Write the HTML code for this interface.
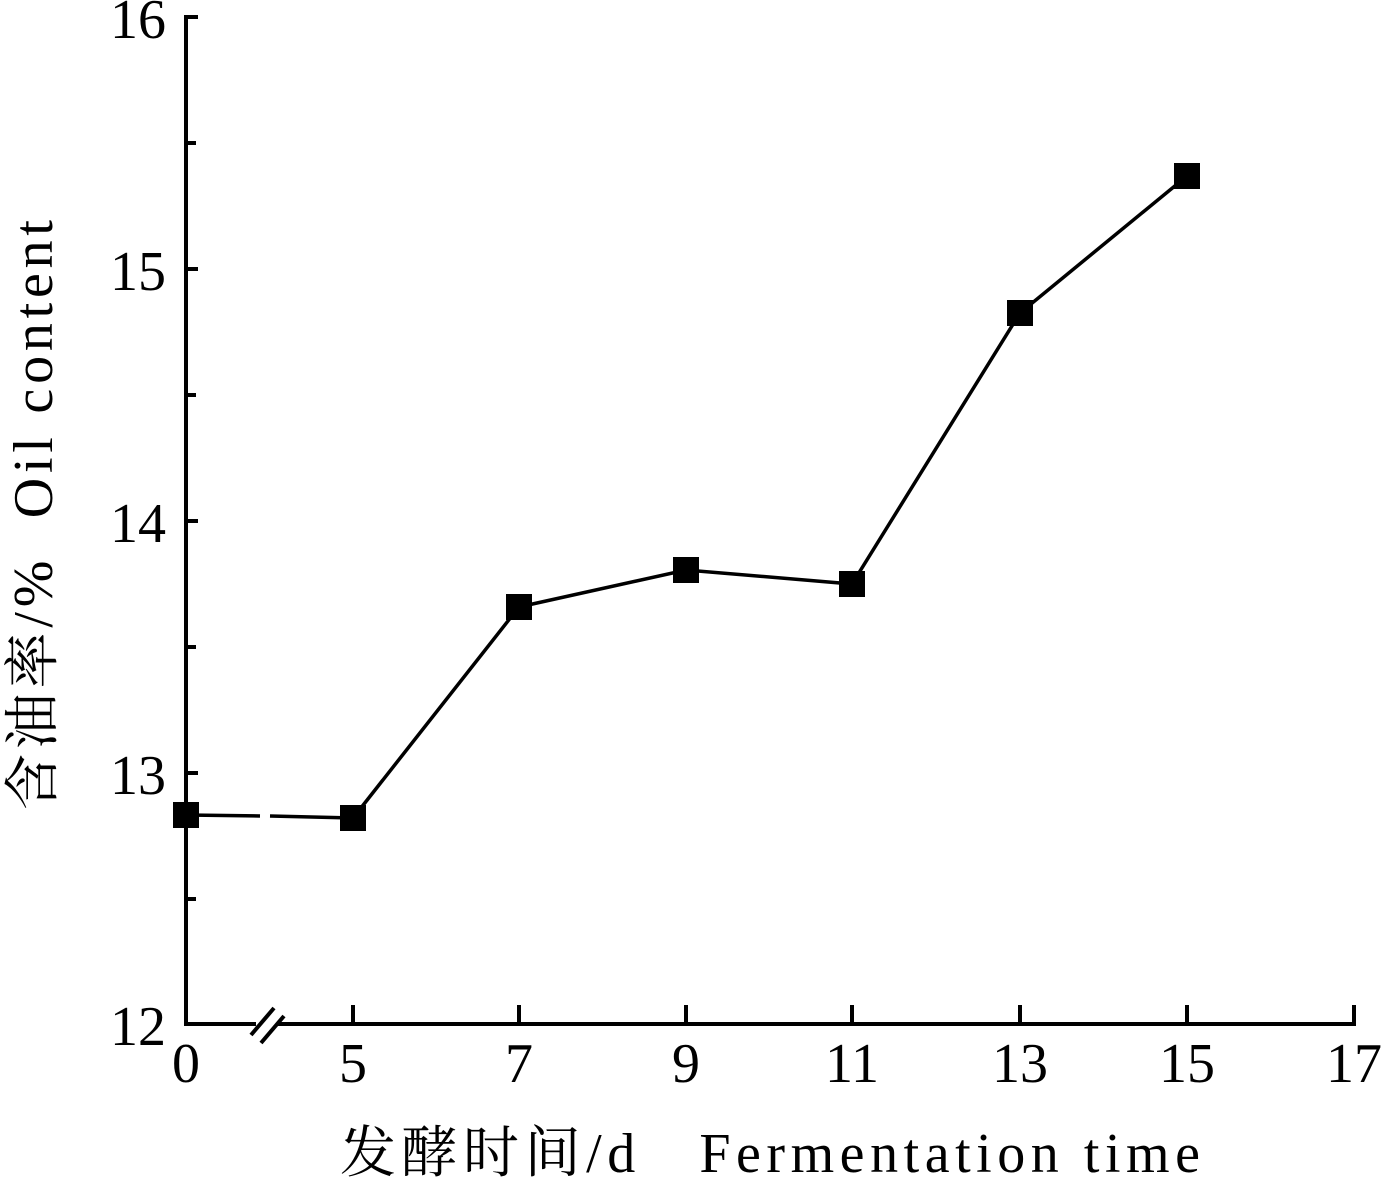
<!DOCTYPE html>
<html><head><meta charset="utf-8"><style>
html,body{margin:0;padding:0;background:#fff;}
</style></head><body>
<svg width="1386" height="1180" viewBox="0 0 1386 1180" xmlns="http://www.w3.org/2000/svg" font-family="'Liberation Serif','Noto Serif CJK SC',serif">
<g stroke="#000" stroke-width="4" fill="none">
<line x1="186" y1="15" x2="186" y2="1026"/>
<line x1="184" y1="1024" x2="256" y2="1024"/>
<line x1="278" y1="1024" x2="1356" y2="1024"/>
<line x1="184" y1="17" x2="198" y2="17"/>
<line x1="186" y1="143" x2="196" y2="143"/>
<line x1="186" y1="269" x2="198" y2="269"/>
<line x1="186" y1="395" x2="196" y2="395"/>
<line x1="186" y1="521" x2="198" y2="521"/>
<line x1="186" y1="647" x2="196" y2="647"/>
<line x1="186" y1="773" x2="198" y2="773"/>
<line x1="186" y1="899" x2="196" y2="899"/>
<line x1="353" y1="1024" x2="353" y2="1005"/>
<line x1="519" y1="1024" x2="519" y2="1005"/>
<line x1="686" y1="1024" x2="686" y2="1005"/>
<line x1="852" y1="1024" x2="852" y2="1005"/>
<line x1="1020" y1="1024" x2="1020" y2="1005"/>
<line x1="1187" y1="1024" x2="1187" y2="1005"/>
<line x1="1354" y1="1024" x2="1354" y2="1005"/>
<line x1="251" y1="1035" x2="274" y2="1008"/>
<line x1="261" y1="1043" x2="284" y2="1016"/>
</g>
<g stroke="#000" stroke-width="3.5" fill="none">
<line x1="186" y1="815" x2="260" y2="816"/>
<line x1="270" y1="816" x2="353" y2="818"/>
<polyline points="353,818 519,607 686,570 852,584 1020,313 1187,176"/>
</g>
<g fill="#000">
<rect x="173" y="802" width="26" height="26"/>
<rect x="340" y="805" width="26" height="26"/>
<rect x="506" y="594" width="26" height="26"/>
<rect x="673" y="557" width="26" height="26"/>
<rect x="839" y="571" width="26" height="26"/>
<rect x="1007" y="300" width="26" height="26"/>
<rect x="1174" y="163" width="26" height="26"/>
</g>
<g font-size="56" text-anchor="end" fill="#000">
<text x="166" y="38">16</text>
<text x="166" y="290">15</text>
<text x="166" y="542">14</text>
<text x="166" y="794">13</text>
<text x="166" y="1045">12</text>
</g>
<g font-size="56" text-anchor="middle" fill="#000">
<text x="186" y="1082">0</text>
<text x="353" y="1082">5</text>
<text x="519" y="1082">7</text>
<text x="686" y="1082">9</text>
<text x="852" y="1082">11</text>
<text x="1020" y="1082">13</text>
<text x="1187" y="1082">15</text>
<text x="1354" y="1082">17</text>
</g>
<text x="340" y="1172" font-size="56" fill="#000" xml:space="preserve" textLength="860" lengthAdjust="spacing">发酵时间/d   Fermentation time</text>
<text transform="translate(52,810) rotate(-90)" font-size="56" fill="#000" xml:space="preserve" textLength="590" lengthAdjust="spacing">含油率/%  Oil content</text>
</svg>
</body></html>
